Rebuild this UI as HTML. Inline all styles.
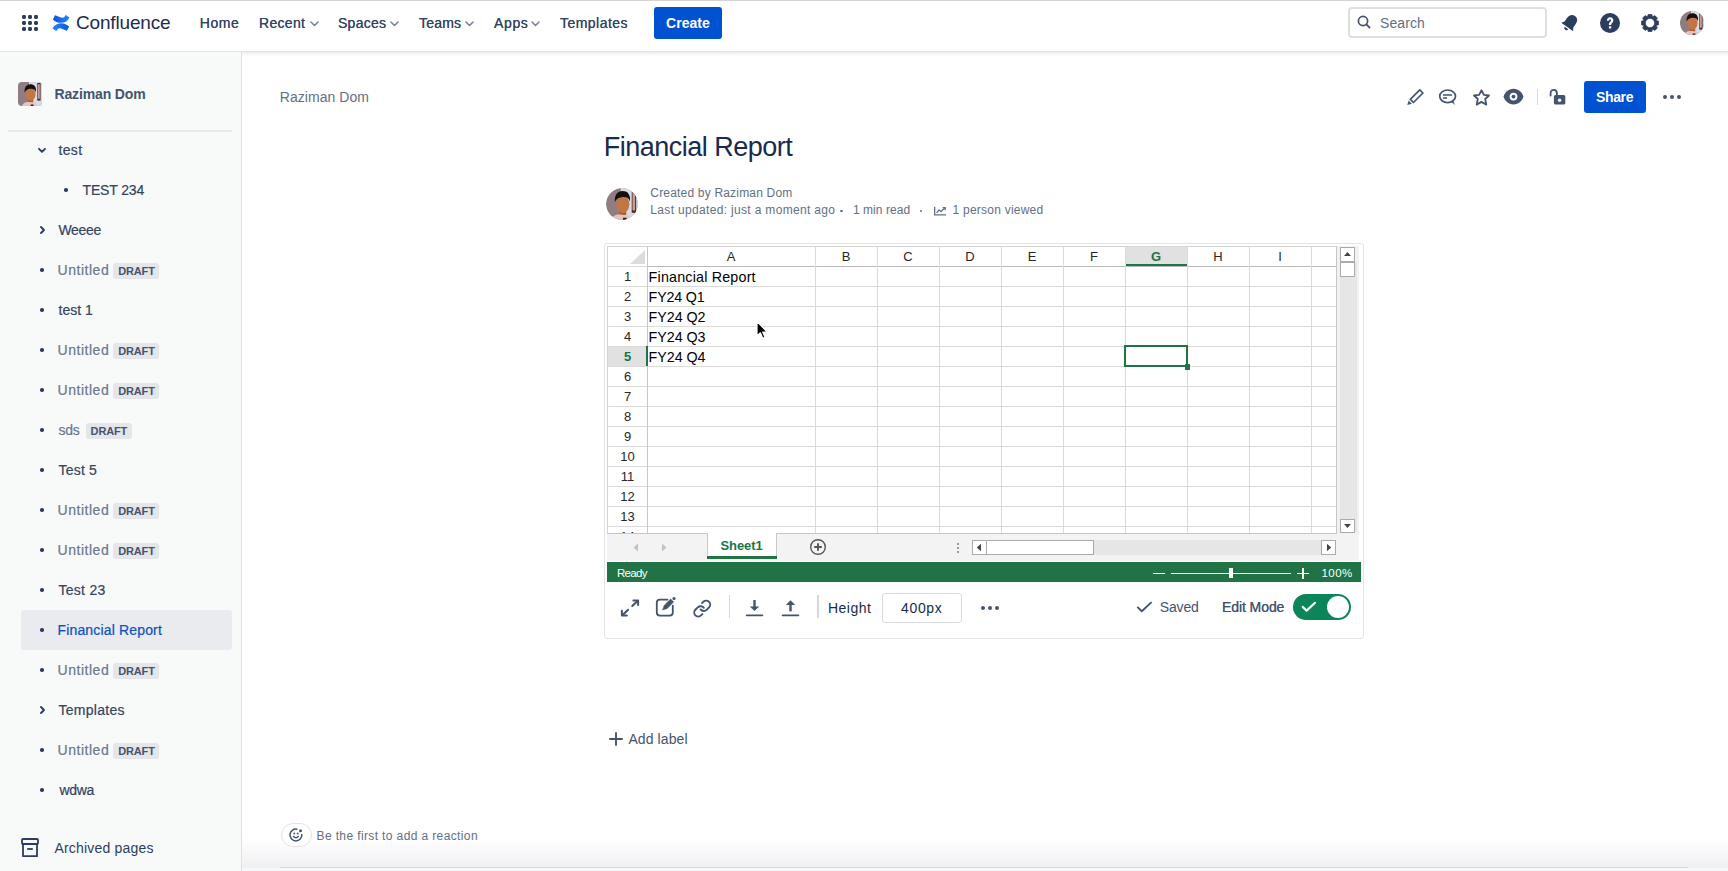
<!DOCTYPE html>
<html><head><meta charset="utf-8">
<style>
*{box-sizing:border-box;margin:0;padding:0}
html,body{width:1728px;height:871px;overflow:hidden;background:#fff;font-family:"Liberation Sans",sans-serif}
.abs{position:absolute}
.t{position:absolute;white-space:nowrap}
</style></head><body>
<div class="abs" style="left:0;top:0;width:1728px;height:1px;background:#d4d4d4"></div>
<div class="abs" style="left:0;top:51px;width:1728px;height:1px;background:#e2e4e8"></div>
<div class="abs" style="left:0;top:52px;width:1728px;height:4px;background:linear-gradient(rgba(9,30,66,.09),rgba(9,30,66,0))"></div>
<svg class="abs" style="left:22px;top:15px" width="16" height="16" viewBox="0 0 16 16"><g fill="#2c3e5d"><rect x="0" y="0" width="4" height="4" rx="1.4"/><rect x="6" y="0" width="4" height="4" rx="1.4"/><rect x="12" y="0" width="4" height="4" rx="1.4"/><rect x="0" y="6" width="4" height="4" rx="1.4"/><rect x="6" y="6" width="4" height="4" rx="1.4"/><rect x="12" y="6" width="4" height="4" rx="1.4"/><rect x="0" y="12" width="4" height="4" rx="1.4"/><rect x="6" y="12" width="4" height="4" rx="1.4"/><rect x="12" y="12" width="4" height="4" rx="1.4"/></g></svg>
<svg class="abs" style="left:52px;top:15px" width="18" height="16" viewBox="0 0 18 16">
<defs><linearGradient id="lg1" x1="0" y1="0" x2="1" y2="0"><stop offset="0" stop-color="#0a57d6"/><stop offset="1" stop-color="#2684ff"/></linearGradient>
<linearGradient id="lg2" x1="1" y1="0" x2="0" y2="0"><stop offset="0" stop-color="#0a57d6"/><stop offset="1" stop-color="#2684ff"/></linearGradient></defs>
<path d="M3,0.2 C6,1.2 9,3 11.5,2.6 C12.5,2.3 13,1 13.7,0 L17.5,2.5 C16,6 13,7.6 9,7.8 C6,7.9 3,6.5 0.9,4.4 Z" fill="url(#lg1)"/>
<path d="M3,0.2 C6,1.2 9,3 11.5,2.6 C12.5,2.3 13,1 13.7,0 L17.5,2.5 C16,6 13,7.6 9,7.8 C6,7.9 3,6.5 0.9,4.4 Z" fill="url(#lg1)" transform="rotate(180 9 8)"/>
</svg>
<div id="conf" class="t" style="left:76.00px;top:12.90px;font-size:19px;line-height:19px;color:#1e2b4d;font-weight:normal;letter-spacing:-0.173px;">Confluence</div>
<div id="n_home" class="t" style="left:199.80px;top:15.70px;font-size:14px;line-height:14px;color:#344563;font-weight:normal;letter-spacing:0.547px;text-shadow:0 0 .3px #344563">Home</div>
<div id="n_recent" class="t" style="left:259.00px;top:15.70px;font-size:14px;line-height:14px;color:#344563;font-weight:normal;letter-spacing:0.306px;text-shadow:0 0 .3px #344563">Recent</div>
<svg class="abs" style="left:310px;top:21px" width="9" height="6" viewBox="0 0 9 6"><path d="M1 1 L4.5 4.5 L8 1" fill="none" stroke="#7a8599" stroke-width="1.6" stroke-linecap="round" stroke-linejoin="round"/></svg>
<div id="n_spaces" class="t" style="left:338.00px;top:15.70px;font-size:14px;line-height:14px;color:#344563;font-weight:normal;letter-spacing:0.261px;text-shadow:0 0 .3px #344563">Spaces</div>
<svg class="abs" style="left:390px;top:21px" width="9" height="6" viewBox="0 0 9 6"><path d="M1 1 L4.5 4.5 L8 1" fill="none" stroke="#7a8599" stroke-width="1.6" stroke-linecap="round" stroke-linejoin="round"/></svg>
<div id="n_teams" class="t" style="left:419.00px;top:15.70px;font-size:14px;line-height:14px;color:#344563;font-weight:normal;letter-spacing:0.191px;text-shadow:0 0 .3px #344563">Teams</div>
<svg class="abs" style="left:465px;top:21px" width="9" height="6" viewBox="0 0 9 6"><path d="M1 1 L4.5 4.5 L8 1" fill="none" stroke="#7a8599" stroke-width="1.6" stroke-linecap="round" stroke-linejoin="round"/></svg>
<div id="n_apps" class="t" style="left:494.00px;top:15.70px;font-size:14px;line-height:14px;color:#344563;font-weight:normal;letter-spacing:0.630px;text-shadow:0 0 .3px #344563">Apps</div>
<svg class="abs" style="left:531px;top:21px" width="9" height="6" viewBox="0 0 9 6"><path d="M1 1 L4.5 4.5 L8 1" fill="none" stroke="#7a8599" stroke-width="1.6" stroke-linecap="round" stroke-linejoin="round"/></svg>
<div id="n_templates" class="t" style="left:560.00px;top:15.70px;font-size:14px;line-height:14px;color:#344563;font-weight:normal;letter-spacing:0.462px;text-shadow:0 0 .3px #344563">Templates</div>
<div class="abs" style="left:654px;top:7px;width:68px;height:32px;background:#0052d0;border-radius:3px"></div>
<div id="n_create" class="t" style="left:666.00px;top:15.70px;font-size:14px;line-height:14px;color:#ffffff;font-weight:bold;letter-spacing:0.041px;">Create</div>
<div class="abs" style="left:1348px;top:7px;width:199px;height:31px;border:2px solid #dcdfe4;border-radius:4px;background:#fff"></div>
<svg class="abs" style="left:1357px;top:15px" width="14" height="14" viewBox="0 0 14 14"><circle cx="6" cy="6" r="4.6" fill="none" stroke="#44546f" stroke-width="1.7"/><path d="M9.4 9.4 L12.6 12.6" stroke="#44546f" stroke-width="1.8" stroke-linecap="round"/></svg>
<div id="s_search" class="t" style="left:1380.00px;top:15.60px;font-size:14px;line-height:14px;color:#626f86;font-weight:normal;letter-spacing:0.086px;">Search</div>
<svg class="abs" style="left:1559px;top:12px" width="22" height="22" viewBox="0 0 20 20"><g transform="rotate(35 10 10)" fill="#2c3e5d">
<path d="M10 2.2 C6.8 2.2 5.2 4.6 5.2 7.6 L5.2 11.8 L3.4 14.4 L16.6 14.4 L14.8 11.8 L14.8 7.6 C14.8 4.6 13.2 2.2 10 2.2 Z"/><path d="M8 15.6 A2 2 0 0 0 12 15.6 Z"/></g></svg>
<svg class="abs" style="left:1600px;top:13px" width="20" height="20" viewBox="0 0 20 20"><circle cx="10" cy="10" r="10" fill="#2c3e5d"/>
<path d="M6.9 7.8 C6.9 5.6 8.3 4.3 10.1 4.3 C12 4.3 13.4 5.6 13.4 7.4 C13.4 9.6 11.2 9.8 11.2 11.6 L11.2 12 L8.9 12 L8.9 11.3 C8.9 8.9 11.1 8.6 11.1 7.5 C11.1 6.9 10.7 6.5 10.1 6.5 C9.5 6.5 9.1 7 9.1 7.8 Z" fill="#fff"/><rect x="8.85" y="13.2" width="2.4" height="2.4" rx=".5" fill="#fff"/></svg>
<svg class="abs" style="left:1640.5px;top:13.6px" width="18" height="18" viewBox="0 0 18 18"><path d="M17.72,7.23 L17.72,10.77 L15.55,11.47 L15.38,11.89 L16.42,13.92 L13.92,16.42 L11.89,15.38 L11.47,15.55 L10.77,17.72 L7.23,17.72 L6.53,15.55 L6.11,15.38 L4.08,16.42 L1.58,13.92 L2.62,11.89 L2.45,11.47 L0.28,10.77 L0.28,7.23 L2.45,6.53 L2.62,6.11 L1.58,4.08 L4.08,1.58 L6.11,2.62 L6.53,2.45 L7.23,0.28 L10.77,0.28 L11.47,2.45 L11.89,2.62 L13.92,1.58 L16.42,4.08 L15.38,6.11 L15.55,6.53 Z M9 4.4 A4.6 4.6 0 1 0 9 13.6 A4.6 4.6 0 1 0 9 4.4 Z" fill="#2c3e5d" fill-rule="evenodd" stroke="#2c3e5d" stroke-width="0.6" stroke-linejoin="round"/></svg>
<svg class="abs" style="left:1680px;top:11px;border-radius:50%" width="24" height="24" viewBox="0 0 24 24">
<rect width="24" height="24" fill="#8f7d82"/><rect x="11" y="0" width="13" height="24" fill="#d8dbe4"/>
<rect x="19.3" y="1" width="3.3" height="17.6" fill="#4b2b27"/><rect x="19.9" y="2.2" width="1.9" height="14.6" fill="#c99e98"/>
<rect x="10" y="16.5" width="5.2" height="4.5" fill="#a85f35"/>
<ellipse cx="12.6" cy="12.2" rx="4.9" ry="6.6" fill="#c27644"/>
<path d="M6.6 10.5 C6.2 5 8.8 2.2 12.4 2.2 C16 2.2 18.6 4.4 18 10.2 C17.2 7.6 15.4 6.6 12.6 6.8 C9.8 7 8 8 6.6 10.5 Z" fill="#161010"/>
<path d="M4 24 C4.8 20.6 7.8 19.6 11.5 20 L14 20.2 C16.6 20 18.4 21 18.8 24 Z" fill="#e7c3bd"/>
<path d="M12.8 22.4 L15.4 22.4 L15.6 24 L12.6 24 Z" fill="#2a1f1f"/></svg>
<div class="abs" style="left:0;top:52px;width:241px;height:819px;background:#f8f9f9"></div>
<div class="abs" style="left:241px;top:52px;width:1px;height:819px;background:#dfe1e5"></div>
<svg class="abs" style="left:18px;top:82px;border-radius:4px" width="24" height="24" viewBox="0 0 24 24">
<rect width="24" height="24" fill="#8f7d82"/><rect x="11" y="0" width="13" height="24" fill="#d8dbe4"/>
<rect x="19.3" y="1" width="3.3" height="17.6" fill="#4b2b27"/><rect x="19.9" y="2.2" width="1.9" height="14.6" fill="#c99e98"/>
<rect x="10" y="16.5" width="5.2" height="4.5" fill="#a85f35"/>
<ellipse cx="12.6" cy="12.2" rx="4.9" ry="6.6" fill="#c27644"/>
<path d="M6.6 10.5 C6.2 5 8.8 2.2 12.4 2.2 C16 2.2 18.6 4.4 18 10.2 C17.2 7.6 15.4 6.6 12.6 6.8 C9.8 7 8 8 6.6 10.5 Z" fill="#161010"/>
<path d="M4 24 C4.8 20.6 7.8 19.6 11.5 20 L14 20.2 C16.6 20 18.4 21 18.8 24 Z" fill="#e7c3bd"/>
<path d="M12.8 22.4 L15.4 22.4 L15.6 24 L12.6 24 Z" fill="#2a1f1f"/></svg>
<div id="sb_name" class="t" style="left:54.50px;top:87.40px;font-size:14px;line-height:14px;color:#44546f;font-weight:bold;letter-spacing:-0.142px;">Raziman Dom</div>
<div class="abs" style="left:8px;top:130px;width:224px;height:2px;background:#e6e8eb"></div>
<div class="abs" style="left:21px;top:610px;width:211px;height:40px;background:#e9ebef;border-radius:3px"></div>
<svg class="abs" style="left:37px;top:147px" width="10" height="7" viewBox="0 0 10 7"><path d="M2 1.8 L5 4.8 L8 1.8" fill="none" stroke="#2c3e5d" stroke-width="1.9" stroke-linecap="round" stroke-linejoin="round"/></svg>
<div id="sb0" class="t" style="left:58.50px;top:143.00px;font-size:14px;line-height:14px;color:#34445f;font-weight:normal;letter-spacing:0.341px;-webkit-text-stroke:0.2px #34445f">test</div>
<div class="abs" style="left:64.3px;top:188.3px;width:3.4px;height:3.4px;border-radius:50%;background:#2c3e5d"></div>
<div id="sb1" class="t" style="left:82.50px;top:183.00px;font-size:14px;line-height:14px;color:#34445f;font-weight:normal;letter-spacing:-0.149px;-webkit-text-stroke:0.2px #34445f">TEST 234</div>
<svg class="abs" style="left:39px;top:225px" width="7" height="10" viewBox="0 0 7 10"><path d="M2 2 L5 5 L2 8" fill="none" stroke="#2c3e5d" stroke-width="1.9" stroke-linecap="round" stroke-linejoin="round"/></svg>
<div id="sb2" class="t" style="left:58.50px;top:223.00px;font-size:14px;line-height:14px;color:#34445f;font-weight:normal;letter-spacing:-0.355px;-webkit-text-stroke:0.2px #34445f">Weeee</div>
<div class="abs" style="left:40.3px;top:268.3px;width:3.4px;height:3.4px;border-radius:50%;background:#2c3e5d"></div>
<div id="sb3" class="t" style="left:57.50px;top:263.00px;font-size:14px;line-height:14px;color:#6b778c;font-weight:normal;letter-spacing:0.531px;-webkit-text-stroke:0.2px #6b778c">Untitled</div>
<div class="abs" style="left:113.2px;top:263px;width:46px;height:16px;background:#e4e6ea;border-radius:3px"></div>
<div id="dr3" class="t" style="left:118.20px;top:266.00px;font-size:11px;line-height:11px;color:#44546f;font-weight:bold;letter-spacing:-0.138px;">DRAFT</div>
<div class="abs" style="left:40.3px;top:308.3px;width:3.4px;height:3.4px;border-radius:50%;background:#2c3e5d"></div>
<div id="sb4" class="t" style="left:58.50px;top:303.00px;font-size:14px;line-height:14px;color:#34445f;font-weight:normal;letter-spacing:-0.011px;-webkit-text-stroke:0.2px #34445f">test 1</div>
<div class="abs" style="left:40.3px;top:348.3px;width:3.4px;height:3.4px;border-radius:50%;background:#2c3e5d"></div>
<div id="sb5" class="t" style="left:57.50px;top:343.00px;font-size:14px;line-height:14px;color:#6b778c;font-weight:normal;letter-spacing:0.531px;-webkit-text-stroke:0.2px #6b778c">Untitled</div>
<div class="abs" style="left:113.2px;top:343px;width:46px;height:16px;background:#e4e6ea;border-radius:3px"></div>
<div id="dr5" class="t" style="left:118.20px;top:346.00px;font-size:11px;line-height:11px;color:#44546f;font-weight:bold;letter-spacing:-0.138px;">DRAFT</div>
<div class="abs" style="left:40.3px;top:388.3px;width:3.4px;height:3.4px;border-radius:50%;background:#2c3e5d"></div>
<div id="sb6" class="t" style="left:57.50px;top:383.00px;font-size:14px;line-height:14px;color:#6b778c;font-weight:normal;letter-spacing:0.531px;-webkit-text-stroke:0.2px #6b778c">Untitled</div>
<div class="abs" style="left:113.2px;top:383px;width:46px;height:16px;background:#e4e6ea;border-radius:3px"></div>
<div id="dr6" class="t" style="left:118.20px;top:386.00px;font-size:11px;line-height:11px;color:#44546f;font-weight:bold;letter-spacing:-0.138px;">DRAFT</div>
<div class="abs" style="left:40.3px;top:428.3px;width:3.4px;height:3.4px;border-radius:50%;background:#2c3e5d"></div>
<div id="sb7" class="t" style="left:58.50px;top:423.00px;font-size:14px;line-height:14px;color:#6b778c;font-weight:normal;letter-spacing:-0.243px;-webkit-text-stroke:0.2px #6b778c">sds</div>
<div class="abs" style="left:85.6px;top:423px;width:46px;height:16px;background:#e4e6ea;border-radius:3px"></div>
<div id="dr7" class="t" style="left:90.60px;top:426.00px;font-size:11px;line-height:11px;color:#44546f;font-weight:bold;letter-spacing:-0.138px;">DRAFT</div>
<div class="abs" style="left:40.3px;top:468.3px;width:3.4px;height:3.4px;border-radius:50%;background:#2c3e5d"></div>
<div id="sb8" class="t" style="left:58.50px;top:463.00px;font-size:14px;line-height:14px;color:#34445f;font-weight:normal;letter-spacing:0.207px;-webkit-text-stroke:0.2px #34445f">Test 5</div>
<div class="abs" style="left:40.3px;top:508.3px;width:3.4px;height:3.4px;border-radius:50%;background:#2c3e5d"></div>
<div id="sb9" class="t" style="left:57.50px;top:503.00px;font-size:14px;line-height:14px;color:#6b778c;font-weight:normal;letter-spacing:0.531px;-webkit-text-stroke:0.2px #6b778c">Untitled</div>
<div class="abs" style="left:113.2px;top:503px;width:46px;height:16px;background:#e4e6ea;border-radius:3px"></div>
<div id="dr9" class="t" style="left:118.20px;top:506.00px;font-size:11px;line-height:11px;color:#44546f;font-weight:bold;letter-spacing:-0.138px;">DRAFT</div>
<div class="abs" style="left:40.3px;top:548.3px;width:3.4px;height:3.4px;border-radius:50%;background:#2c3e5d"></div>
<div id="sb10" class="t" style="left:57.50px;top:543.00px;font-size:14px;line-height:14px;color:#6b778c;font-weight:normal;letter-spacing:0.531px;-webkit-text-stroke:0.2px #6b778c">Untitled</div>
<div class="abs" style="left:113.2px;top:543px;width:46px;height:16px;background:#e4e6ea;border-radius:3px"></div>
<div id="dr10" class="t" style="left:118.20px;top:546.00px;font-size:11px;line-height:11px;color:#44546f;font-weight:bold;letter-spacing:-0.138px;">DRAFT</div>
<div class="abs" style="left:40.3px;top:588.3px;width:3.4px;height:3.4px;border-radius:50%;background:#2c3e5d"></div>
<div id="sb11" class="t" style="left:58.50px;top:583.00px;font-size:14px;line-height:14px;color:#34445f;font-weight:normal;letter-spacing:0.275px;-webkit-text-stroke:0.2px #34445f">Test 23</div>
<div class="abs" style="left:40.3px;top:628.3px;width:3.4px;height:3.4px;border-radius:50%;background:#2c3e5d"></div>
<div id="sb12" class="t" style="left:57.50px;top:623.00px;font-size:14px;line-height:14px;color:#0b50c4;font-weight:normal;letter-spacing:0.157px;-webkit-text-stroke:0.2px #0b50c4">Financial Report</div>
<div class="abs" style="left:40.3px;top:668.3px;width:3.4px;height:3.4px;border-radius:50%;background:#2c3e5d"></div>
<div id="sb13" class="t" style="left:57.50px;top:663.00px;font-size:14px;line-height:14px;color:#6b778c;font-weight:normal;letter-spacing:0.531px;-webkit-text-stroke:0.2px #6b778c">Untitled</div>
<div class="abs" style="left:113.2px;top:663px;width:46px;height:16px;background:#e4e6ea;border-radius:3px"></div>
<div id="dr13" class="t" style="left:118.20px;top:666.00px;font-size:11px;line-height:11px;color:#44546f;font-weight:bold;letter-spacing:-0.138px;">DRAFT</div>
<svg class="abs" style="left:39px;top:705px" width="7" height="10" viewBox="0 0 7 10"><path d="M2 2 L5 5 L2 8" fill="none" stroke="#2c3e5d" stroke-width="1.9" stroke-linecap="round" stroke-linejoin="round"/></svg>
<div id="sb14" class="t" style="left:58.50px;top:703.00px;font-size:14px;line-height:14px;color:#34445f;font-weight:normal;letter-spacing:0.274px;-webkit-text-stroke:0.2px #34445f">Templates</div>
<div class="abs" style="left:40.3px;top:748.3px;width:3.4px;height:3.4px;border-radius:50%;background:#2c3e5d"></div>
<div id="sb15" class="t" style="left:57.50px;top:743.00px;font-size:14px;line-height:14px;color:#6b778c;font-weight:normal;letter-spacing:0.531px;-webkit-text-stroke:0.2px #6b778c">Untitled</div>
<div class="abs" style="left:113.2px;top:743px;width:46px;height:16px;background:#e4e6ea;border-radius:3px"></div>
<div id="dr15" class="t" style="left:118.20px;top:746.00px;font-size:11px;line-height:11px;color:#44546f;font-weight:bold;letter-spacing:-0.138px;">DRAFT</div>
<div class="abs" style="left:40.3px;top:788.3px;width:3.4px;height:3.4px;border-radius:50%;background:#2c3e5d"></div>
<div id="sb16" class="t" style="left:59.50px;top:783.00px;font-size:14px;line-height:14px;color:#34445f;font-weight:normal;letter-spacing:-0.336px;-webkit-text-stroke:0.2px #34445f">wdwa</div>
<svg class="abs" style="left:21px;top:838px" width="18" height="20" viewBox="0 0 18 20"><g fill="none" stroke="#2c3e5d" stroke-width="1.8" stroke-linejoin="round">
<rect x="1" y="1" width="16" height="5" rx="1"/><path d="M2 6 L2 18.2 L16 18.2 L16 6"/></g><path d="M6.2 11 L11.8 11" stroke="#2c3e5d" stroke-width="1.8"/></svg>
<div id="sb_arch" class="t" style="left:54.40px;top:840.80px;font-size:14px;line-height:14px;color:#2c3e5d;font-weight:normal;letter-spacing:0.192px;">Archived pages</div>
<div id="bc" class="t" style="left:279.80px;top:89.90px;font-size:14px;line-height:14px;color:#626f86;font-weight:normal;letter-spacing:0.047px;">Raziman Dom</div>
<svg class="abs" style="left:1406px;top:88px" width="19" height="18" viewBox="0 0 19 18">
<path d="M13.8 1.9 L16.9 5 L7.4 14.5 L4.3 11.4 Z" fill="none" stroke="#44546f" stroke-width="1.7" stroke-linejoin="round"/>
<path d="M1.3 17 L2.6 12.6 L5.8 15.8 Z" fill="#44546f"/></svg>
<svg class="abs" style="left:1438px;top:89px" width="19" height="17" viewBox="0 0 19 17">
<ellipse cx="9.6" cy="7.3" rx="7.9" ry="6.3" fill="none" stroke="#44546f" stroke-width="1.7"/>
<path d="M12.6 12.4 L17.2 15.9 L14.8 11.2 Z" fill="#44546f"/>
<path d="M4.9 6 L14.1 6 M4.9 9 L9 9" stroke="#44546f" stroke-width="1.7"/></svg>
<svg class="abs" style="left:1472px;top:88.8px" width="19" height="18" viewBox="0 0 19 18">
<path d="M9.5 1.2 L11.9 5.9 L17 6.5 L13.2 10 L14.3 15.6 L9.5 12.9 L4.7 15.6 L5.8 10 L2 6.5 L7.1 5.9 Z" fill="none" stroke="#44546f" stroke-width="1.8" stroke-linejoin="round"/></svg>
<svg class="abs" style="left:1503px;top:88.4px" width="21" height="18" viewBox="0 0 21 18">
<path d="M10.5 0.7 C15.6 0.7 19.6 4.6 20.4 8.6 C19.6 12.6 15.6 16.5 10.5 16.5 C5.4 16.5 1.4 12.6 0.6 8.6 C1.4 4.6 5.4 0.7 10.5 0.7 Z" fill="#44546f"/>
<circle cx="10.5" cy="8.6" r="3.9" fill="#fff"/><circle cx="10.5" cy="8.6" r="1.9" fill="#44546f"/></svg>
<div class="abs" style="left:1536.5px;top:89px;width:1.5px;height:16px;background:#d5d8dd"></div>
<svg class="abs" style="left:1548px;top:88px" width="19" height="18" viewBox="0 0 19 18">
<path d="M2.6 7.6 L2.6 5.2 C2.6 3 4 1.8 5.8 1.8 C7.6 1.8 8.9 3 8.9 5.2 L8.9 8" fill="none" stroke="#44546f" stroke-width="1.8" stroke-linecap="round"/>
<rect x="5.9" y="7" width="11.4" height="9.6" rx="1.6" fill="#44546f"/><circle cx="11.6" cy="12.2" r="1.7" fill="#fff"/></svg>
<div class="abs" style="left:1584px;top:81px;width:62px;height:32px;background:#0052d0;border-radius:3px"></div>
<div id="share" class="t" style="left:1596.00px;top:89.70px;font-size:14px;line-height:14px;color:#fff;font-weight:bold;letter-spacing:-0.356px;">Share</div>
<div class="abs" style="left:1662.9px;top:94.9px;width:4.2px;height:4.2px;border-radius:50%;background:#44546f"></div>
<div class="abs" style="left:1669.9px;top:94.9px;width:4.2px;height:4.2px;border-radius:50%;background:#44546f"></div>
<div class="abs" style="left:1676.9px;top:94.9px;width:4.2px;height:4.2px;border-radius:50%;background:#44546f"></div>
<div id="title" class="t" style="left:603.80px;top:133.60px;font-size:27px;line-height:27px;color:#172b4d;font-weight:normal;letter-spacing:-0.506px;">Financial Report</div>
<div class="abs" style="left:606px;top:188px;width:32px;height:32px;border-radius:50%;overflow:hidden">
<svg class="abs" style="left:0px;top:0px;border-radius:50%" width="32" height="32" viewBox="0 0 24 24">
<rect width="24" height="24" fill="#8f7d82"/><rect x="11" y="0" width="13" height="24" fill="#d8dbe4"/>
<rect x="19.3" y="1" width="3.3" height="17.6" fill="#4b2b27"/><rect x="19.9" y="2.2" width="1.9" height="14.6" fill="#c99e98"/>
<rect x="10" y="16.5" width="5.2" height="4.5" fill="#a85f35"/>
<ellipse cx="12.6" cy="12.2" rx="4.9" ry="6.6" fill="#c27644"/>
<path d="M6.6 10.5 C6.2 5 8.8 2.2 12.4 2.2 C16 2.2 18.6 4.4 18 10.2 C17.2 7.6 15.4 6.6 12.6 6.8 C9.8 7 8 8 6.6 10.5 Z" fill="#161010"/>
<path d="M4 24 C4.8 20.6 7.8 19.6 11.5 20 L14 20.2 C16.6 20 18.4 21 18.8 24 Z" fill="#e7c3bd"/>
<path d="M12.8 22.4 L15.4 22.4 L15.6 24 L12.6 24 Z" fill="#2a1f1f"/></svg>
</div>
<div id="m1" class="t" style="left:650.30px;top:186.70px;font-size:12px;line-height:12px;color:#626f86;font-weight:normal;letter-spacing:0.188px;">Created by Raziman Dom</div>
<div id="m2" class="t" style="left:650.30px;top:204.40px;font-size:12px;line-height:12px;color:#626f86;font-weight:normal;letter-spacing:0.330px;">Last updated: just a moment ago</div>
<div class="abs" style="left:840.4px;top:209.9px;width:2.6px;height:2.6px;border-radius:50%;background:#626f86"></div>
<div id="m3" class="t" style="left:852.90px;top:204.40px;font-size:12px;line-height:12px;color:#626f86;font-weight:normal;letter-spacing:0.064px;">1 min read</div>
<div class="abs" style="left:919.8px;top:209.9px;width:2.6px;height:2.6px;border-radius:50%;background:#626f86"></div>
<svg class="abs" style="left:932.6px;top:205.6px" width="14.4" height="10.4" viewBox="0 0 16 12">
<path d="M1.6 1 L1.6 10.2 L14.8 10.2" fill="none" stroke="#626f86" stroke-width="1.5"/>
<path d="M3.8 8 L6.6 4.6 L9 6.4 L13.2 2.4" fill="none" stroke="#626f86" stroke-width="1.5" stroke-linejoin="round"/><path d="M10.8 1.8 L13.8 1.8 L13.8 4.8" fill="none" stroke="#626f86" stroke-width="1.5"/></svg>
<div id="m4" class="t" style="left:952.50px;top:204.40px;font-size:12px;line-height:12px;color:#626f86;font-weight:normal;letter-spacing:0.235px;">1 person viewed</div>
<div class="abs" style="left:604px;top:243px;width:760px;height:396px;border:1px solid #e3e4e6;border-radius:3px;background:#fff"></div>
<div class="abs" style="left:607px;top:246px;width:730px;height:288px;border:1px solid #d4d4d4;border-bottom:1px solid #c6c6c6;border-right:1px solid #c6c6c6;overflow:hidden;background:#fff">
<div class="abs" style="left:517px;top:0;width:62px;height:19px;background:#e1e1e1"></div>
<div class="abs" style="left:517px;top:17px;width:62px;height:3px;background:#217346"></div>
<div class="abs" style="left:0;top:99px;width:39px;height:20px;background:#e1e1e1"></div>
<div class="abs" style="left:0;top:39px;width:740px;height:1px;background:#dadada"></div>
<div class="abs" style="left:0;top:59px;width:740px;height:1px;background:#dadada"></div>
<div class="abs" style="left:0;top:79px;width:740px;height:1px;background:#dadada"></div>
<div class="abs" style="left:0;top:99px;width:740px;height:1px;background:#dadada"></div>
<div class="abs" style="left:0;top:119px;width:740px;height:1px;background:#dadada"></div>
<div class="abs" style="left:0;top:139px;width:740px;height:1px;background:#dadada"></div>
<div class="abs" style="left:0;top:159px;width:740px;height:1px;background:#dadada"></div>
<div class="abs" style="left:0;top:179px;width:740px;height:1px;background:#dadada"></div>
<div class="abs" style="left:0;top:199px;width:740px;height:1px;background:#dadada"></div>
<div class="abs" style="left:0;top:219px;width:740px;height:1px;background:#dadada"></div>
<div class="abs" style="left:0;top:239px;width:740px;height:1px;background:#dadada"></div>
<div class="abs" style="left:0;top:259px;width:740px;height:1px;background:#dadada"></div>
<div class="abs" style="left:0;top:279px;width:740px;height:1px;background:#dadada"></div>
<div class="abs" style="left:0;top:299px;width:740px;height:1px;background:#dadada"></div>
<div class="abs" style="left:0;top:19px;width:39px;height:1px;background:#dadada"></div>
<div class="abs" style="left:39px;top:19px;width:700px;height:1px;background:#b8b8b8"></div>
<div class="abs" style="left:39px;top:0;width:1px;height:300px;background:#c8c8c8"></div>
<div class="abs" style="left:207px;top:0;width:1px;height:300px;background:#dadada"></div>
<div class="abs" style="left:269px;top:0;width:1px;height:300px;background:#dadada"></div>
<div class="abs" style="left:331px;top:0;width:1px;height:300px;background:#dadada"></div>
<div class="abs" style="left:393px;top:0;width:1px;height:300px;background:#dadada"></div>
<div class="abs" style="left:455px;top:0;width:1px;height:300px;background:#dadada"></div>
<div class="abs" style="left:517px;top:0;width:1px;height:300px;background:#dadada"></div>
<div class="abs" style="left:579px;top:0;width:1px;height:300px;background:#dadada"></div>
<div class="abs" style="left:641px;top:0;width:1px;height:300px;background:#dadada"></div>
<div class="abs" style="left:703px;top:0;width:1px;height:300px;background:#dadada"></div>
<div class="abs" style="left:38px;top:99px;width:2px;height:20px;background:#217346"></div>
<svg class="abs" style="left:22px;top:3px" width="15" height="14" viewBox="0 0 15 14"><path d="M15 0 L15 14 L0 14 Z" fill="#dcdcdc"/></svg>
<div class="t" style="left:103.0px;top:2.80px;width:40px;text-align:center;font-size:13px;line-height:13px;color:#262626">A</div>
<div class="t" style="left:218.0px;top:2.80px;width:40px;text-align:center;font-size:13px;line-height:13px;color:#262626">B</div>
<div class="t" style="left:280.0px;top:2.80px;width:40px;text-align:center;font-size:13px;line-height:13px;color:#262626">C</div>
<div class="t" style="left:342.0px;top:2.80px;width:40px;text-align:center;font-size:13px;line-height:13px;color:#262626">D</div>
<div class="t" style="left:404.0px;top:2.80px;width:40px;text-align:center;font-size:13px;line-height:13px;color:#262626">E</div>
<div class="t" style="left:466.0px;top:2.80px;width:40px;text-align:center;font-size:13px;line-height:13px;color:#262626">F</div>
<div class="t" style="left:528.0px;top:2.80px;width:40px;text-align:center;font-size:13px;line-height:13px;color:#217346;font-weight:bold">G</div>
<div class="t" style="left:590.0px;top:2.80px;width:40px;text-align:center;font-size:13px;line-height:13px;color:#262626">H</div>
<div class="t" style="left:652.0px;top:2.80px;width:40px;text-align:center;font-size:13px;line-height:13px;color:#262626">I</div>
<div class="t" style="left:0;top:23.00px;width:39px;text-align:center;font-size:13px;line-height:13px;color:#262626;font-weight:normal">1</div>
<div class="t" style="left:0;top:43.00px;width:39px;text-align:center;font-size:13px;line-height:13px;color:#262626;font-weight:normal">2</div>
<div class="t" style="left:0;top:63.00px;width:39px;text-align:center;font-size:13px;line-height:13px;color:#262626;font-weight:normal">3</div>
<div class="t" style="left:0;top:83.00px;width:39px;text-align:center;font-size:13px;line-height:13px;color:#262626;font-weight:normal">4</div>
<div class="t" style="left:0;top:103.00px;width:39px;text-align:center;font-size:13px;line-height:13px;color:#217346;font-weight:bold">5</div>
<div class="t" style="left:0;top:123.00px;width:39px;text-align:center;font-size:13px;line-height:13px;color:#262626;font-weight:normal">6</div>
<div class="t" style="left:0;top:143.00px;width:39px;text-align:center;font-size:13px;line-height:13px;color:#262626;font-weight:normal">7</div>
<div class="t" style="left:0;top:163.00px;width:39px;text-align:center;font-size:13px;line-height:13px;color:#262626;font-weight:normal">8</div>
<div class="t" style="left:0;top:183.00px;width:39px;text-align:center;font-size:13px;line-height:13px;color:#262626;font-weight:normal">9</div>
<div class="t" style="left:0;top:203.00px;width:39px;text-align:center;font-size:13px;line-height:13px;color:#262626;font-weight:normal">10</div>
<div class="t" style="left:0;top:223.00px;width:39px;text-align:center;font-size:13px;line-height:13px;color:#262626;font-weight:normal">11</div>
<div class="t" style="left:0;top:243.00px;width:39px;text-align:center;font-size:13px;line-height:13px;color:#262626;font-weight:normal">12</div>
<div class="t" style="left:0;top:263.00px;width:39px;text-align:center;font-size:13px;line-height:13px;color:#262626;font-weight:normal">13</div>
<div class="t" style="left:0;top:283.00px;width:39px;text-align:center;font-size:13px;line-height:13px;color:#262626;font-weight:normal">14</div>
<div id="cell0" class="t" style="left:40.60px;top:22.80px;font-size:14.3px;line-height:14.3px;color:#000;font-weight:normal;letter-spacing:0.192px;">Financial Report</div>
<div id="cell1" class="t" style="left:40.60px;top:42.80px;font-size:14.3px;line-height:14.3px;color:#000;font-weight:normal;letter-spacing:-0.177px;">FY24 Q1</div>
<div id="cell2" class="t" style="left:40.60px;top:62.80px;font-size:14.3px;line-height:14.3px;color:#000;font-weight:normal;letter-spacing:-0.044px;">FY24 Q2</div>
<div id="cell3" class="t" style="left:40.60px;top:82.80px;font-size:14.3px;line-height:14.3px;color:#000;font-weight:normal;letter-spacing:-0.044px;">FY24 Q3</div>
<div id="cell4" class="t" style="left:40.60px;top:102.80px;font-size:14.3px;line-height:14.3px;color:#000;font-weight:normal;letter-spacing:-0.044px;">FY24 Q4</div>
<div class="abs" style="left:516px;top:98px;width:64px;height:22px;border:2px solid #217346"></div>
<div class="abs" style="left:576.5px;top:117px;width:5.5px;height:5.5px;background:#217346"></div>
</div>
<div class="abs" style="left:1337px;top:246px;width:22px;height:288px;background:#f1f1f1"></div>
<div class="abs" style="left:1340px;top:262px;width:17px;height:270px;background:#e6e6e6"></div>
<div class="abs" style="left:1340px;top:247px;width:15px;height:15px;background:#fff;border:1px solid #ababab"></div>
<svg class="abs" style="left:1343px;top:251px" width="9" height="6" viewBox="0 0 9 6"><path d="M4.5 1 L8 5 L1 5 Z" fill="#444"/></svg>
<div class="abs" style="left:1340px;top:262px;width:15px;height:15px;background:#fff;border:1px solid #ababab"></div>
<div class="abs" style="left:1340px;top:519px;width:15px;height:14px;background:#fff;border:1px solid #ababab"></div>
<svg class="abs" style="left:1343px;top:523px" width="9" height="6" viewBox="0 0 9 6"><path d="M1 1 L8 1 L4.5 5 Z" fill="#444"/></svg>
<div class="abs" style="left:607px;top:534px;width:752px;height:27px;background:#f3f3f3"></div>
<svg class="abs" style="left:632px;top:543px" width="8" height="9" viewBox="0 0 8 9"><path d="M6 0.5 L6 8.5 L1.5 4.5 Z" fill="#c2c2c2"/></svg>
<svg class="abs" style="left:660px;top:543px" width="8" height="9" viewBox="0 0 8 9"><path d="M2 0.5 L2 8.5 L6.5 4.5 Z" fill="#c2c2c2"/></svg>
<div class="abs" style="left:707px;top:533px;width:70px;height:26px;background:#fff;border:1px solid #c8c8c8;border-top:none"></div>
<div class="abs" style="left:707px;top:556px;width:70px;height:2.5px;background:#217346"></div>
<div id="sheet1" class="t" style="left:720.40px;top:539.00px;font-size:13px;line-height:13px;color:#217346;font-weight:bold;letter-spacing:-0.040px;">Sheet1</div>
<svg class="abs" style="left:809px;top:538px" width="18" height="18" viewBox="0 0 18 18"><circle cx="9" cy="9" r="7.3" fill="none" stroke="#555" stroke-width="1.4"/><path d="M9 5.2 L9 12.8 M5.2 9 L12.8 9" stroke="#555" stroke-width="1.9"/></svg>
<div class="abs" style="left:957px;top:543px;width:2px;height:2px;background:#9a9a9a"></div>
<div class="abs" style="left:957px;top:547px;width:2px;height:2px;background:#9a9a9a"></div>
<div class="abs" style="left:957px;top:551px;width:2px;height:2px;background:#9a9a9a"></div>
<div class="abs" style="left:972px;top:540px;width:364px;height:15px;background:#e6e6e6"></div>
<div class="abs" style="left:972px;top:540px;width:15px;height:15px;background:#fff;border:1px solid #ababab"></div>
<svg class="abs" style="left:975px;top:543px" width="8" height="9" viewBox="0 0 8 9"><path d="M6 0.8 L6 8.2 L1.8 4.5 Z" fill="#444"/></svg>
<div class="abs" style="left:986px;top:540px;width:108px;height:15px;background:#fff;border:1px solid #ababab"></div>
<div class="abs" style="left:1321px;top:540px;width:15px;height:15px;background:#fff;border:1px solid #ababab"></div>
<svg class="abs" style="left:1325px;top:543px" width="8" height="9" viewBox="0 0 8 9"><path d="M2 0.8 L2 8.2 L6.2 4.5 Z" fill="#444"/></svg>
<div class="abs" style="left:607px;top:562px;width:754px;height:20px;background:#217346"></div>
<div id="ready" class="t" style="left:617.00px;top:567.60px;font-size:11.5px;line-height:11.5px;color:#fff;font-weight:normal;letter-spacing:-0.698px;">Ready</div>
<div class="abs" style="left:1153px;top:572.6px;width:11.5px;height:1.3px;background:#fff"></div>
<div class="abs" style="left:1170.5px;top:572.6px;width:120.5px;height:1.3px;background:#fff"></div>
<div class="abs" style="left:1228.5px;top:568px;width:4.5px;height:10px;background:#fff"></div>
<div class="abs" style="left:1297.3px;top:572.6px;width:11.3px;height:1.4px;background:#fff"></div>
<div class="abs" style="left:1302.3px;top:567.6px;width:1.4px;height:11.3px;background:#fff"></div>
<div id="zoom" class="t" style="left:1321.60px;top:567.70px;font-size:11.5px;line-height:11.5px;color:#fff;font-weight:normal;letter-spacing:0.371px;">100%</div>
<svg class="abs" style="left:755px;top:320px" width="14" height="20" viewBox="0 0 14 20"><path d="M2 1.5 L2 16 L5.4 12.8 L7.8 18.2 L10 17.2 L7.7 12 L12.2 12 Z" fill="#000" stroke="#fff" stroke-width="1.2" stroke-linejoin="round"/></svg>
<svg class="abs" style="left:615px;top:592px" width="100" height="30" viewBox="0 0 100 30"><g fill="none" stroke="#44546f" stroke-width="2" stroke-linecap="round" stroke-linejoin="round">
<path d="M18.4 8.4 L23.1 8.4 L23.1 13.1"/><path d="M17.3 14 L22.5 9"/><path d="M6.9 18.7 L6.9 23.6 L11.8 23.6"/><path d="M13.1 17.7 L7.6 23"/>
</g><path d="M52.4 7.6 L44.8 7.6 Q41.8 7.6 41.8 10.6 L41.8 20.6 Q41.8 23.6 44.8 23.6 L54.8 23.6 Q57.8 23.6 57.8 20.6 L57.8 13.6" fill="none" stroke="#44546f" stroke-width="1.8" stroke-linecap="round"/>
<path d="M47.6 18 L49.2 13.4 L55.6 7 L58.6 10 L52.2 16.4 Z" fill="#44546f" stroke="#44546f" stroke-width="0.6" stroke-linejoin="round"/><circle cx="59" cy="6.5" r="1.55" fill="#44546f"/>
<g transform="translate(77.6 7.0) scale(0.8)" fill="none" stroke="#44546f" stroke-width="2.4" stroke-linecap="round" stroke-linejoin="round">
<path d="M10 13a5 5 0 0 0 7.54.54l3-3a5 5 0 0 0-7.07-7.07l-1.72 1.71"/><path d="M14 11a5 5 0 0 0-7.54-.54l-3 3a5 5 0 0 0 7.07 7.07l1.71-1.71"/></g></svg>
<div class="abs" style="left:728.5px;top:594.5px;width:1.5px;height:23px;background:#d5d8dd"></div>
<svg class="abs" style="left:745px;top:599px" width="19" height="18" viewBox="0 0 19 18"><path d="M9.5 1 L9.5 10" stroke="#44546f" stroke-width="2.4"/><path d="M4.8 7.4 L9.5 12 L14.2 7.4 Z" fill="#44546f"/><path d="M1.6 16.3 L17.4 16.3" stroke="#44546f" stroke-width="1.8" stroke-linecap="round"/></svg>
<svg class="abs" style="left:781px;top:599px" width="19" height="18" viewBox="0 0 19 18"><path d="M9.5 12.4 L9.5 4" stroke="#44546f" stroke-width="2.4"/><path d="M4.8 6 L9.5 1.2 L14.2 6 Z" fill="#44546f"/><path d="M1.6 16.3 L17.4 16.3" stroke="#44546f" stroke-width="1.8" stroke-linecap="round"/></svg>
<div class="abs" style="left:817px;top:594.5px;width:1.5px;height:23px;background:#d5d8dd"></div>
<div id="height" class="t" style="left:828.00px;top:600.80px;font-size:14px;line-height:14px;color:#172b4d;font-weight:normal;letter-spacing:0.484px;">Height</div>
<div class="abs" style="left:881.5px;top:593px;width:80px;height:30px;border:1px solid #d7dae0;border-radius:3px;background:#fff"></div>
<div id="h400" class="t" style="left:901.00px;top:600.80px;font-size:14px;line-height:14px;color:#172b4d;font-weight:normal;letter-spacing:0.664px;">400px</div>
<div class="abs" style="left:981px;top:606px;width:4px;height:4px;border-radius:50%;background:#44546f"></div>
<div class="abs" style="left:988px;top:606px;width:4px;height:4px;border-radius:50%;background:#44546f"></div>
<div class="abs" style="left:995px;top:606px;width:4px;height:4px;border-radius:50%;background:#44546f"></div>
<svg class="abs" style="left:1136px;top:601px" width="17" height="12" viewBox="0 0 17 12"><path d="M1.8 6.4 L5.8 10.2 L15 1.6" fill="none" stroke="#44546f" stroke-width="1.9" stroke-linecap="round" stroke-linejoin="round"/></svg>
<div id="saved" class="t" style="left:1159.80px;top:599.80px;font-size:14px;line-height:14px;color:#44546f;font-weight:normal;letter-spacing:-0.153px;">Saved</div>
<div id="editmode" class="t" style="left:1222.00px;top:600.00px;font-size:14px;line-height:14px;color:#44546f;font-weight:normal;letter-spacing:-0.081px;text-shadow:0 0 .3px #44546f">Edit Mode</div>
<div class="abs" style="left:1293px;top:594px;width:58px;height:26px;border-radius:13px;background:#0b8559"></div>
<div class="abs" style="left:1327px;top:596px;width:22px;height:22px;border-radius:50%;background:#fff"></div>
<svg class="abs" style="left:1301px;top:601px" width="16" height="12" viewBox="0 0 16 12"><path d="M1.8 6 L5.6 9.6 L14 1.8" fill="none" stroke="#fff" stroke-width="2.2" stroke-linecap="round" stroke-linejoin="round"/></svg>
<svg class="abs" style="left:609px;top:732px" width="14" height="14" viewBox="0 0 14 14"><path d="M7 1 L7 13 M1 7 L13 7" stroke="#44546f" stroke-width="1.9" stroke-linecap="round"/></svg>
<div id="addlabel" class="t" style="left:628.40px;top:731.80px;font-size:14px;line-height:14px;color:#44546f;font-weight:normal;letter-spacing:0.091px;">Add label</div>
<div class="abs" style="left:242px;top:838px;width:1486px;height:30px;background:linear-gradient(rgba(241,242,244,0),#eff0f2)"></div>
<div class="abs" style="left:242px;top:868px;width:1486px;height:3px;background:#f6f7f8"></div>
<div class="abs" style="left:280px;top:867px;width:1408px;height:1px;background:#d3d6dc"></div>
<div class="abs" style="left:280.5px;top:823px;width:31px;height:24px;border:1px solid #e1e3e7;border-radius:12px;background:#fff"></div>
<svg class="abs" style="left:288px;top:828px" width="16" height="14" viewBox="0 0 16 14"><g fill="none" stroke="#44546f" stroke-width="1.5" stroke-linecap="round">
<path d="M8.92 1.19 A5.9 5.9 0 1 0 13.78 6.49"/><path d="M5.7 8.5 Q7.95 10.9 10.3 8.5"/></g><circle cx="6.3" cy="5.5" r="0.95" fill="#44546f"/><circle cx="9.7" cy="5.5" r="0.95" fill="#44546f"/><circle cx="12.5" cy="2.7" r="1.5" fill="#44546f"/></svg>
<div id="react" class="t" style="left:316.50px;top:830.00px;font-size:12px;line-height:12px;color:#626f86;font-weight:normal;letter-spacing:0.379px;">Be the first to add a reaction</div>
</body></html>
